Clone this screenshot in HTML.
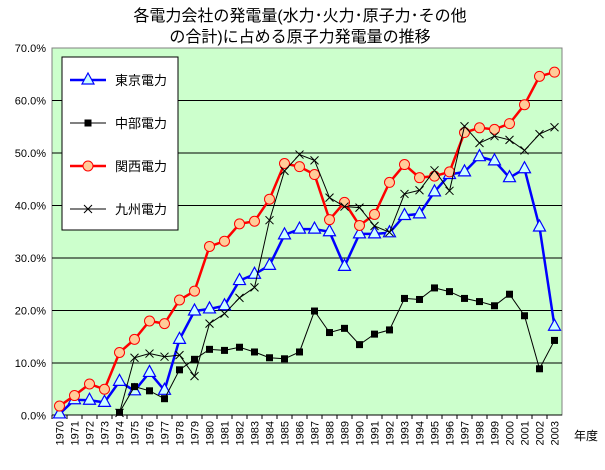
<!DOCTYPE html>
<html><head><meta charset="utf-8"><style>
body{margin:0;background:#fff;}
svg{font-family:"Liberation Sans","Noto Sans CJK JP",sans-serif;}
</style></head><body>
<svg id="c" width="605" height="465" xmlns="http://www.w3.org/2000/svg">
<text x="300" y="21" text-anchor="middle" font-size="16">各電力会社の発電量(水力･火力･原子力･その他</text>
<text x="300" y="42" text-anchor="middle" font-size="16">の合計)に占める原子力発電量の推移</text>
<rect x="52" y="48" width="510" height="367" fill="#ccffcc" stroke="#808080"/>
<g id="grid"></g><g id="axes"></g><g id="series"></g>
<text x="586" y="440" text-anchor="middle" font-size="12">年度</text>
<g>
<rect x="62" y="57" width="116" height="173" fill="#fff" stroke="#000"/>
</g>
<g id="legend"></g>
</svg>
<script>
const years=[];for(let y=1970;y<=2003;y++)years.push(String(y));
const tokyo=[0.3,3.0,2.9,2.5,6.5,4.7,8.2,4.8,14.5,19.9,20.3,20.9,25.7,26.9,28.6,34.4,35.5,35.5,35.0,28.4,34.6,34.6,34.8,38.1,38.4,42.6,45.9,46.4,49.3,48.5,45.3,47.0,35.9,17.0];
const chubu=[null,null,null,null,0.6,5.5,4.7,3.2,8.7,10.7,12.6,12.4,13.0,12.1,11.0,10.8,12.1,19.9,15.8,16.6,13.5,15.5,16.3,22.3,22.1,24.3,23.6,22.3,21.7,20.9,23.1,19.0,8.9,14.3];
const kansai=[1.8,3.8,6.0,5.0,12.0,14.5,18.0,17.5,22.0,23.7,32.2,33.2,36.5,37.0,41.2,48.0,47.4,45.9,37.3,40.6,36.2,38.3,44.4,47.8,45.3,45.6,46.4,53.9,54.8,54.5,55.6,59.2,64.6,65.4];
const kyushu=[null,null,null,null,0.5,11.0,11.8,11.2,11.5,7.5,17.5,19.4,22.4,24.4,37.2,46.6,49.7,48.6,41.5,39.8,39.6,36.1,34.9,42.2,42.9,46.7,42.8,55.1,51.9,53.2,52.5,50.5,53.6,54.9];
const yTicks=[0,10,20,30,40,50,60,70];
const names=["東京電力","中部電力","関西電力","九州電力"];
const NS="http://www.w3.org/2000/svg";
const X0=52,W=510,Y0=415.5,PX=5.25;
const xs=i=>X0+W/years.length*(i+0.5);
const ys=v=>Y0-v*PX;
function mk(t,a,p){const e=document.createElementNS(NS,t);for(const k in a)e.setAttribute(k,a[k]);p.appendChild(e);return e;}
const grid=document.getElementById('grid'),axes=document.getElementById('axes'),ser=document.getElementById('series'),leg=document.getElementById('legend');
yTicks.forEach(v=>{
 if(v>0&&v<70){const l=mk('line',{x1:X0,x2:X0+W,y1:ys(v),y2:ys(v),stroke:'#000','stroke-width':1},grid);
 
 }
 const t=mk('text',{x:46,y:ys(v)+4,'text-anchor':'end','font-size':11},axes);t.textContent=v.toFixed(1)+'%';
 
 
});
mk('line',{x1:X0,x2:X0+W,y1:415,y2:415,stroke:'#000'},axes);
years.forEach((y,i)=>{
 const x=X0+W/years.length*i;
 mk('line',{x1:x,x2:x,y1:415,y2:419,stroke:'#000'},axes);
 const t=mk('text',{transform:`translate(${xs(i)+4},${421}) rotate(-90)`,'text-anchor':'end','font-size':11},axes);t.textContent=y;
 
 
});
function marker(kind,x,y,p){
 if(kind==0)return mk('path',{d:`M${x} ${y-7}L${x+6} ${y+4}L${x-6} ${y+4}Z`,fill:'#ccffff',stroke:'#0000ff','stroke-width':1.2},p);
 if(kind==1)return mk('rect',{x:x-3.5,y:y-3.5,width:7,height:7,fill:'#000'},p);
 if(kind==2)return mk('circle',{cx:x,cy:y,r:5,fill:'#ffcc99',stroke:'#ff0000','stroke-width':1},p);
 return mk('path',{d:`M${x-4} ${y-4}L${x+4} ${y+4}M${x+4} ${y-4}L${x-4} ${y+4}`,stroke:'#000','stroke-width':1},p);
}
const styles=[{c:'#0000ff',w:2.5},{c:'#000',w:1},{c:'#ff0000',w:2.5},{c:'#000',w:1}];
[tokyo,chubu,kansai,kyushu].forEach((d,k)=>{
 const g=mk('g',{},ser);
 
 
 let pts=[];d.forEach((v,i)=>{if(v!==null)pts.push([xs(i),ys(v)]);});
 mk('polyline',{points:pts.map(p=>p.join(',')).join(' '),fill:'none',stroke:styles[k].c,'stroke-width':styles[k].w},g);
 pts.forEach(p=>{const m=marker(k,p[0],p[1],g);
 
 });
 const ly=80+k*43;
 const lg=mk('g',{},leg);
 
 
 mk('line',{x1:70,x2:106,y1:ly,y2:ly,stroke:styles[k].c,'stroke-width':styles[k].w},lg);
 marker(k,88,ly,lg);
 const t=mk('text',{x:115,y:ly+5,'font-size':13},lg);t.textContent=names[k];
});
</script>
</body></html>
